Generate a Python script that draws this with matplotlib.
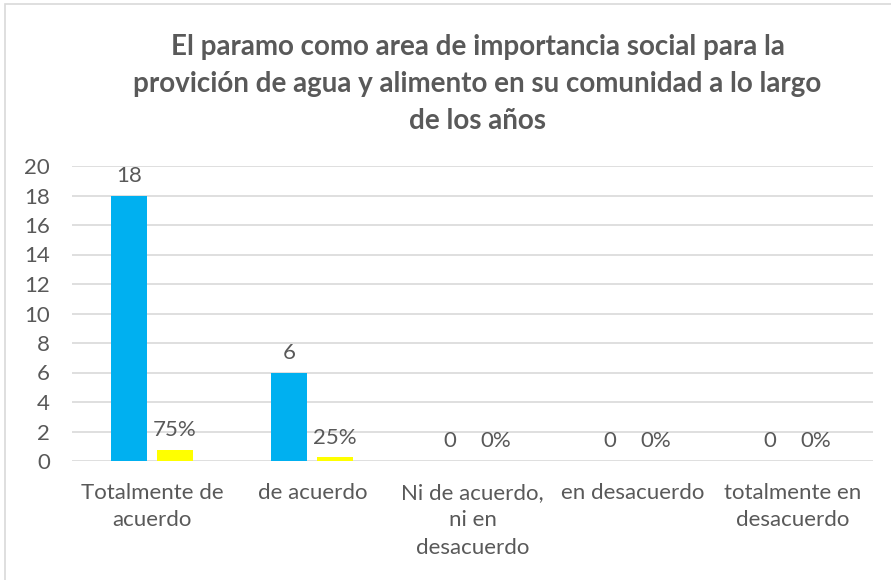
"""Bar chart: importance of the paramo for water and food supply."""

import matplotlib

matplotlib.use("Agg")
import matplotlib.pyplot as plt
from matplotlib.patches import Rectangle
import numpy as np

categories = [
    "Totalmente de\nacuerdo",
    "de acuerdo",
    "Ni de acuerdo,\nni en\ndesacuerdo",
    "en desacuerdo",
    "totalmente en\ndesacuerdo",
]
counts = [18, 6, 0, 0, 0]
shares = [0.75, 0.25, 0.0, 0.0, 0.0]
yticks = list(range(0, 21, 2))

title = ("El paramo como area de importancia social para la\n"
         "provición de agua y alimento en su comunidad a lo largo\n"
         "de los años")

text_color = "#595959"
plt.rcParams["font.family"] = ["Lato", "DejaVu Sans"]

W, H = 891, 580
fig = plt.figure(figsize=(W / 100, H / 100), dpi=100)
ax = fig.add_axes([72 / W, 1 - 461 / H, (873 - 72) / W, (461 - 166) / H])

# light outer frame like the Excel chart area
fig.patches.append(Rectangle((5 / W, -0.1), 1.2, 1 - 4 / H + 0.1,
                             transform=fig.transFigure, fill=False,
                             edgecolor="#D9D9D9", linewidth=1.2))

x = np.arange(len(categories))
width = 0.225
offset = 0.1435
ax.bar(x - offset, counts, width, color="#00B0F0", zorder=3)
ax.bar(x + offset, shares, width, color="#FFFF00", zorder=3)

for xi, c, s in zip(x, counts, shares):
    ax.annotate(f"{c}", (xi - offset, c), xytext=(0, 7), textcoords="offset points",
                ha="center", va="bottom", fontsize=16, color=text_color)
    ax.annotate(f"{s:.0%}", (xi + offset, s), xytext=(0, 7), textcoords="offset points",
                ha="center", va="bottom", fontsize=16, color=text_color)

ax.set_xlim(-0.5, len(categories) - 0.5)
ax.set_ylim(0, 20)
ax.set_yticks(yticks)
ax.set_xticks(x)
ax.set_xticklabels(categories, linespacing=1.45)
ax.tick_params(axis="both", length=0, labelsize=16, labelcolor=text_color)
ax.tick_params(axis="x", pad=16)
ax.tick_params(axis="y", pad=16)
ax.grid(axis="y", color="#D9D9D9", linewidth=1.2, zorder=0)
for sp in ax.spines.values():
    sp.set_visible(False)

fig.text(0.536, 1 - 84 / H, title, ha="center", va="center", fontsize=20,
         fontweight="bold", color=text_color, linespacing=1.52)

fig.savefig("out.png", dpi=100)
plt.close(fig)
